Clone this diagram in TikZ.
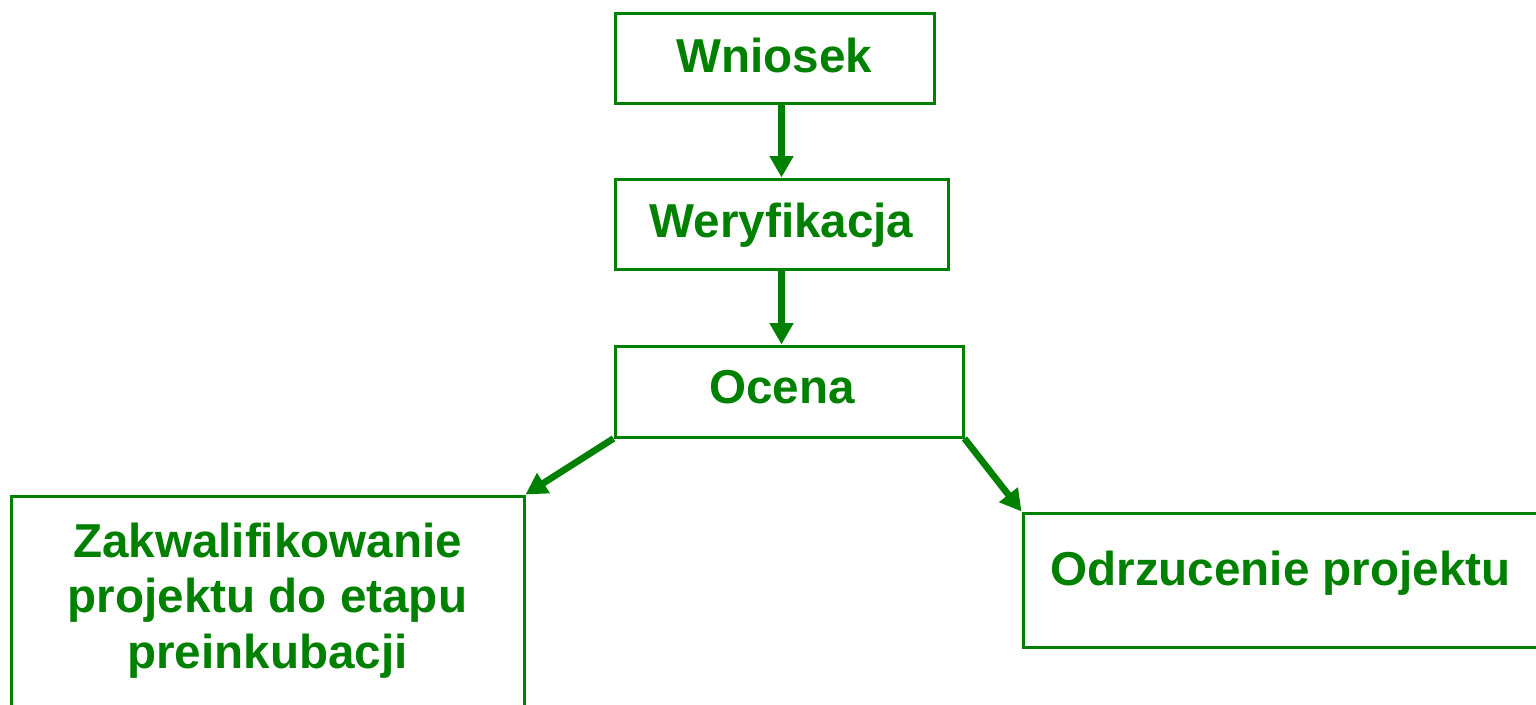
\documentclass[tikz,border=0pt]{standalone}
\usepackage{fontspec}
\setmainfont{Liberation Sans}
\usetikzlibrary{arrows.meta,calc}
\definecolor{dgreen}{RGB}{0,128,0}
\begin{document}
\begin{tikzpicture}[x=0.75pt,y=-0.75pt,
  box/.style={draw=dgreen,line width=2.25pt,rectangle,inner sep=0pt},
  lbl/.style={text=dgreen,font=\fontsize{35.7}{41.6}\selectfont\bfseries,inner sep=0pt,anchor=base,align=center},
  arr/.style={draw=dgreen,line width=5pt,-{Triangle[length=16pt,width=17pt]}}]
\useasboundingbox (0,0) rectangle (1536,704);
\node[box,minimum width=319*0.75pt,minimum height=90*0.75pt] (wn) at (774.5,58) {};
\node[box,minimum width=333*0.75pt,minimum height=90*0.75pt] (we) at (781.5,224) {};
\node[box,minimum width=348*0.75pt,minimum height=91*0.75pt] (oc) at (789,391.5) {};
\node[box,minimum width=513*0.75pt,minimum height=240*0.75pt] (za) at (267.5,616) {};
\node[box,minimum width=514*0.75pt,minimum height=134*0.75pt] (od) at (1280,580) {};
\node[lbl] (twn) at (774.5,72) {Wniosek};
\node[lbl] (twe) at (781.5,237) {Weryfikacja};
\node[lbl] (toc) at (782,403) {Ocena};
\node[lbl] (tza) at (267.5,668) {Zakwalifikowanie\\projektu do etapu\\preinkubacji};
\node[lbl] (tod) at (1280.5,585) {Odrzucenie projektu};
\draw[arr] (we.north |- wn.south) -- (we.north);
\draw[arr] (we.south) -- (we.south |- oc.north);
\draw[arr] (oc.south west) -- (za.north east);
\draw[arr] (oc.south east) -- (od.north west);
\end{tikzpicture}
\end{document}
